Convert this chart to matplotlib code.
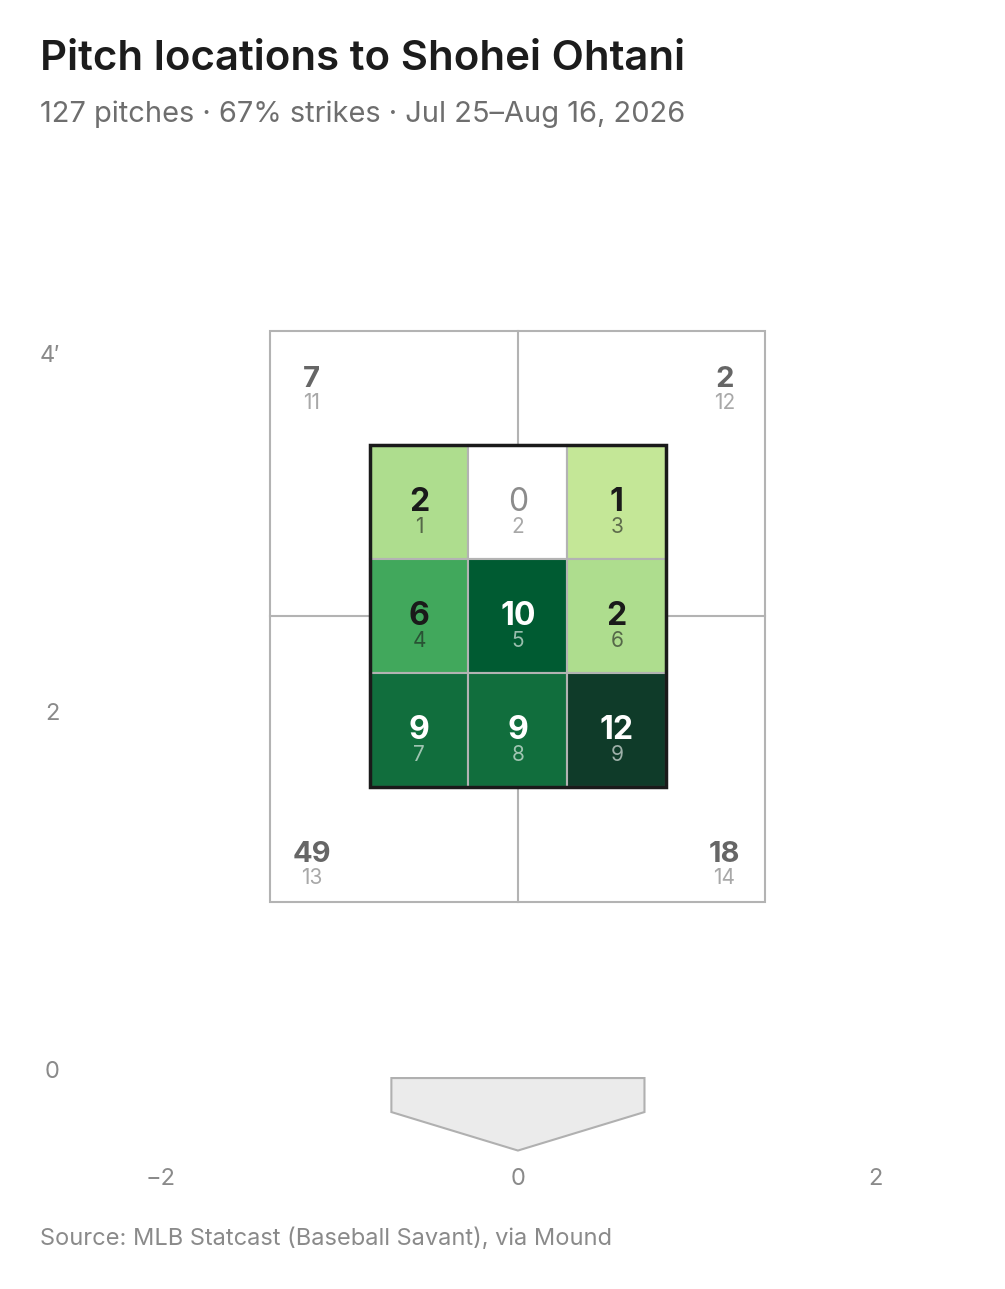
import matplotlib
matplotlib.use("Agg")
import matplotlib.pyplot as plt
from matplotlib.colors import LinearSegmentedColormap, to_rgb
from matplotlib.patches import Rectangle, Polygon
import numpy as np

# ---- data ----
inner_counts = [2, 0, 1,
                6, 10, 2,
                9, 9, 12]          # zones 1..9, row-major from top-left
inner_zones = [1, 2, 3, 4, 5, 6, 7, 8, 9]
outer_counts = [7, 2, 49, 18]      # zones 11, 12, 13, 14
outer_zones = [11, 12, 13, 14]
x_ticks = [-2, 0, 2]
x_tick_labels = ["\u22122", "0", "2"]
y_ticks = [0, 2, 4]
y_tick_labels = ["0", "2", "4\u2032"]
title = "Pitch locations to Shohei Ohtani"
subtitle = "127 pitches \u00b7 67% strikes \u00b7 Jul 25\u2013Aug 16, 2026"
source = "Source: MLB Statcast (Baseball Savant), via Mound"

# geometry (feet)
sz_left, sz_right, sz_bot, sz_top = -0.83, 0.83, 1.58, 3.49
out_left, out_right, out_bot, out_top = -1.385, 1.385, 0.94, 4.13
plate_x = [-0.708, 0.708, 0.708, 0.0, -0.708]
plate_y = [-0.045, -0.045, -0.235, -0.45, -0.235]

BG = "#ffffff"
FONT = "Inter"

plt.rcParams["font.family"] = [FONT, "DejaVu Sans"]

vmax = max(inner_counts)
cmap = LinearSegmentedColormap.from_list(
    "zone",
    [(0.0, "#ffffff"), (1 / 12, "#c3e796"), (2 / 12, "#addd8e"),
     (6 / 12, "#41a85c"), (9 / 12, "#126f3d"), (10 / 12, "#005b32"),
     (1.0, "#0f3b29")])

fig = plt.figure(figsize=(10.05, 12.89), dpi=100, facecolor=BG)
ax = fig.add_axes([0.0707, 0.10047, 0.8893, 0.69434])
ax.set_facecolor(BG)
ax.set_xlim(-2.5, 2.5)
ax.set_ylim(-0.5, 4.5)
for s in ax.spines.values():
    s.set_visible(False)
ax.set_xticks(x_ticks)
ax.set_xticklabels(x_tick_labels)
ax.set_yticks(y_ticks)
ax.set_yticklabels(y_tick_labels)
ax.tick_params(length=0, labelsize=17, colors="#8a8a8a")
ax.tick_params(axis="x", pad=6)
ax.tick_params(axis="y", pad=8)

# outer (shadow) zones
GRID = "#b3b3b3"
ax.add_patch(Rectangle((out_left, out_bot), out_right - out_left, out_top - out_bot,
                       facecolor="#ffffff", edgecolor=GRID, lw=1.5, zorder=1))
mid_y = (sz_bot + sz_top) / 2
ax.plot([0, 0], [out_bot, out_top], color=GRID, lw=1.5, zorder=1.5)
ax.plot([out_left, out_right], [mid_y, mid_y], color=GRID, lw=1.5, zorder=1.5)

# outer labels
ox = [out_left + 0.23, out_right - 0.23, out_left + 0.23, out_right - 0.23]
oy = [out_top - 0.315, out_top - 0.315, out_bot + 0.22, out_bot + 0.22]
for x, y, c, z in zip(ox, oy, outer_counts, outer_zones):
    ax.text(x, y, str(c), ha="center", va="baseline", fontsize=21,
            fontweight="bold", color="#666666", zorder=5)
    ax.text(x, y - 0.123, str(z), ha="center", va="baseline", fontsize=15,
            color="#a8a8a8", zorder=5)

# inner zone cells
cw = (sz_right - sz_left) / 3
ch = (sz_top - sz_bot) / 3
for i, (c, z) in enumerate(zip(inner_counts, inner_zones)):
    r, k = divmod(i, 3)
    x0 = sz_left + k * cw
    y0 = sz_top - (r + 1) * ch
    col = cmap(c / vmax)
    ax.add_patch(Rectangle((x0, y0), cw, ch, facecolor=col, edgecolor=GRID,
                           lw=1.5, zorder=2))
    rr, gg, bb = to_rgb(col)
    lum = 0.2126 * rr + 0.7152 * gg + 0.0722 * bb
    cx = x0 + cw / 2
    cy = y0 + ch / 2
    if c == 0:
        tc, nc, na, fw = "#8c8c8c", "#a8a8a8", 1.0, "normal"
    elif lum < 0.35:
        tc, nc, na, fw = "#ffffff", "#ffffff", 0.6, "bold"
    else:
        tc, nc, na, fw = "#1a1a1a", "#1a1a1a", 0.6, "bold"
    ax.text(cx, cy - 0.05, str(c), ha="center", va="baseline", fontsize=23,
            fontweight=fw, color=tc, zorder=5)
    ax.text(cx, cy - 0.173, str(z), ha="center", va="baseline", fontsize=15,
            color=nc, alpha=na, zorder=5)

ax.add_patch(Rectangle((sz_left, sz_bot), sz_right - sz_left, sz_top - sz_bot,
                       facecolor="none", edgecolor="#1a1a1a", lw=2.5, zorder=4))

# home plate
ax.add_patch(Polygon(np.column_stack([plate_x, plate_y]), closed=True,
                     facecolor="#ebebeb", edgecolor="#b0b0b0", lw=1.5, zorder=2))

# titles
fig.text(40 / 1005, 1 - 59 / 1289, title, fontsize=30.2, fontweight="semibold",
         color="#1c1c1c", ha="left", va="center")
fig.text(40 / 1005, 1 - 114 / 1289, subtitle, fontsize=20.9, color="#6e6e6e",
         ha="left", va="center")
fig.text(40 / 1005, 1 - 1239 / 1289, source, fontsize=17, color="#8a8a8a",
         ha="left", va="center")

fig.savefig("out.png", dpi=100, facecolor=BG)
